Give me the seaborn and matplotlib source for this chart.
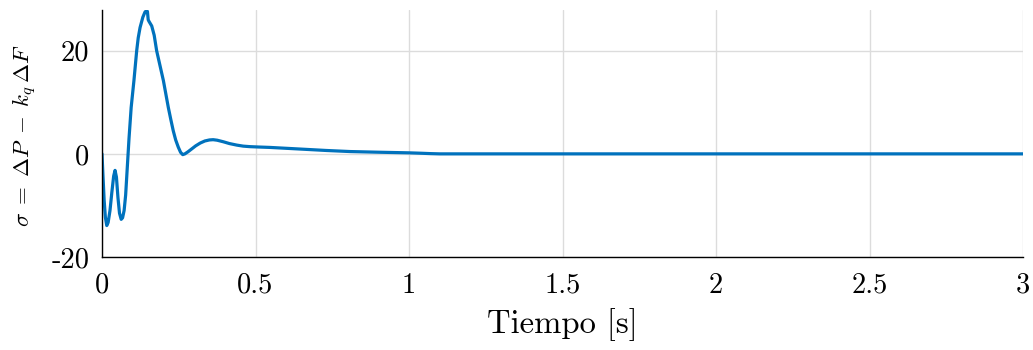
import numpy as np
import pandas as pd
import matplotlib
matplotlib.use("Agg")
import matplotlib.pyplot as plt
import seaborn as sns

# Sampled response of sigma = dP - kq*dF over time [s]
tiempo = [0.0, 0.003, 0.007, 0.011, 0.0155, 0.020, 0.026, 0.032, 0.038,
          0.0425, 0.047, 0.052, 0.057, 0.0625, 0.067, 0.072, 0.077, 0.082,
          0.088, 0.095, 0.104, 0.113, 0.118, 0.124, 0.133, 0.140, 0.1455,
          0.148, 0.1505, 0.153, 0.162, 0.170, 0.178, 0.189, 0.200, 0.208,
          0.216, 0.224, 0.232, 0.240, 0.2485, 0.256, 0.263, 0.270, 0.280,
          0.292, 0.305, 0.320, 0.335, 0.350, 0.362, 0.375, 0.395, 0.415,
          0.439, 0.460, 0.482, 0.510, 0.547, 0.600, 0.656, 0.730, 0.808,
          0.900, 1.000, 1.040, 1.070, 1.100, 1.500, 2.000, 2.500, 3.000]
sigma = [0.0, -4.0, -9.0, -12.3, -13.9, -13.3, -11.0, -7.5, -4.3,
         -3.2, -4.5, -8.5, -11.5, -12.7, -12.4, -11.0, -8.0, -3.0,
         3.0, 9.0, 14.2, 20.0, 22.5, 24.5, 26.5, 27.5, 27.8,
         27.6, 26.0, 25.7, 24.8, 23.0, 20.0, 17.1, 14.2, 11.6,
         9.0, 6.7, 4.5, 2.7, 1.3, 0.3, -0.15, 0.0, 0.4,
         0.95, 1.55, 2.1, 2.5, 2.7, 2.75, 2.65, 2.35, 2.0,
         1.7, 1.5, 1.4, 1.33, 1.25, 1.08, 0.9, 0.66, 0.45,
         0.32, 0.2, 0.12, 0.05, 0.0, 0.0, 0.0, 0.0, 0.0]

x_ticks = [0, 0.5, 1, 1.5, 2, 2.5, 3]
x_tick_labels = ["0", "0.5", "1", "1.5", "2", "2.5", "3"]
y_ticks = [-20, 0, 20]
y_tick_labels = ["-20", "0", "20"]

sns.set_theme(style="white")
plt.rcParams["font.family"] = ["serif"]
plt.rcParams["font.serif"] = ["cmr10", "DejaVu Serif"]
plt.rcParams["mathtext.fontset"] = "cm"
plt.rcParams["axes.unicode_minus"] = False

df = pd.DataFrame({"t": tiempo, "sigma": sigma})

fig = plt.figure(figsize=(10.33, 3.5), dpi=100)
ax = fig.add_axes([102 / 1033, 1 - 257 / 350, 921 / 1033, 247 / 350])

sns.lineplot(data=df, x="t", y="sigma", ax=ax, color="#0072BD",
             linewidth=2.3, estimator=None, sort=False)

ax.set_xlim(0, 3)
ax.set_ylim(-20, 27.9)
ax.set_xticks(x_ticks)
ax.set_xticklabels(x_tick_labels)
ax.set_yticks(y_ticks)
ax.set_yticklabels(y_tick_labels)

ax.grid(True, color="#dcdcdc", linewidth=1.0)
ax.set_axisbelow(True)
for side in ("top", "right"):
    ax.spines[side].set_visible(False)
for side in ("left", "bottom"):
    ax.spines[side].set_color("black")
    ax.spines[side].set_linewidth(1.0)

ax.tick_params(axis="both", direction="in", length=6, width=1.0,
               colors="black", labelsize=20.5)
ax.tick_params(axis="x", pad=11)
ax.tick_params(axis="y", pad=9)

ax.set_xlabel("Tiempo [s]", fontsize=23.5, color="black", labelpad=7)
ax.set_ylabel(r"$\sigma \;=\; \Delta P \;-\; k_q\,\Delta F$", fontsize=16.5,
              color="black")
ax.yaxis.set_label_coords(-0.068, 0.494)

fig.savefig("out.png", dpi=100)
